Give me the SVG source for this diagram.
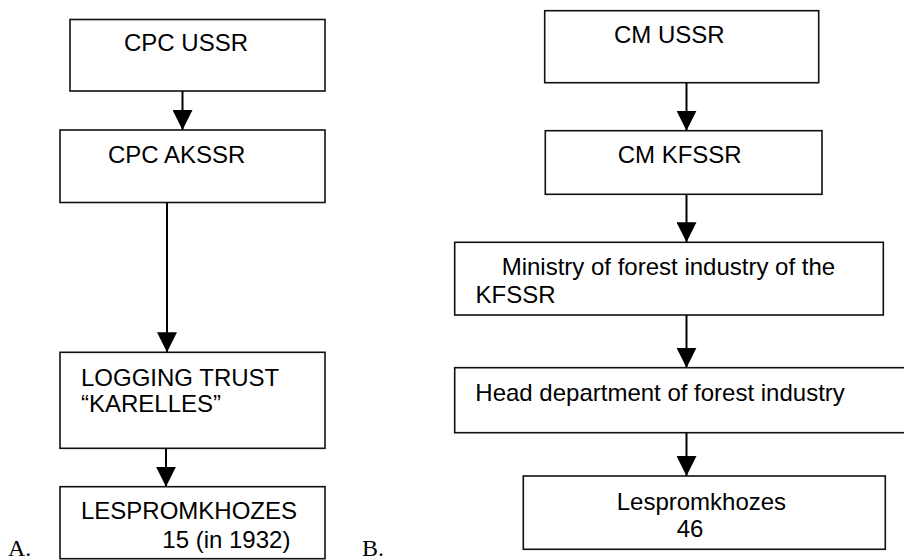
<svg xmlns="http://www.w3.org/2000/svg" width="904" height="560" viewBox="0 0 904 560">
  <style>
    .box { fill: #fff; stroke: #111; stroke-width: 1.6; }
    .lbl { font-family: "Liberation Sans", Arial, sans-serif; font-size: 24px; fill: #000; }
    .tag { font-family: "Liberation Serif", "Times New Roman", serif; font-size: 24px; fill: #000; }
    .edge { stroke: #000; stroke-width: 2; fill: none; marker-end: url(#arrow); }
  </style>
  <defs>
    <marker id="arrow" markerUnits="userSpaceOnUse" viewBox="0 0 20 20" markerWidth="20" markerHeight="20" refX="20" refY="10" orient="auto">
      <path d="M0,0 L20,10 L0,20 Z" fill="#000"/>
    </marker>
  </defs>
  <rect width="904" height="560" fill="#fff"/>

  <!-- Scheme A: party line of command -->
  <g id="cpc-ussr">
    <rect class="box" x="70" y="19.5" width="255" height="71.5"/>
    <text class="lbl" x="124" y="51">CPC USSR</text>
  </g>
  <g id="cpc-akssr">
    <rect class="box" x="60" y="130" width="265" height="72.5"/>
    <text class="lbl" x="108" y="162.5">CPC AKSSR</text>
  </g>
  <g id="logging-trust">
    <rect class="box" x="60" y="352.3" width="265" height="96"/>
    <text class="lbl" x="81" y="386">LOGGING TRUST</text>
    <text class="lbl" x="81" y="411.5">“KARELLES”</text>
  </g>
  <g id="lespromkhozes-a">
    <rect class="box" x="60" y="486.7" width="265" height="72"/>
    <text class="lbl" x="81" y="519.3">LESPROMKHOZES</text>
    <text class="lbl" x="162.3" y="547.5">15 (in 1932)</text>
  </g>

  <!-- Scheme B: ministerial line of command -->
  <g id="cm-ussr">
    <rect class="box" x="544.7" y="10.7" width="274" height="72"/>
    <text class="lbl" x="614" y="43.3">CM USSR</text>
  </g>
  <g id="cm-kfssr">
    <rect class="box" x="545.3" y="130.7" width="276.7" height="63.6"/>
    <text class="lbl" x="617.7" y="163.3">CM KFSSR</text>
  </g>
  <g id="ministry">
    <rect class="box" x="454.7" y="242.3" width="428.6" height="72.7"/>
    <text class="lbl" x="501.7" y="274.5">Ministry of forest industry of the</text>
    <text class="lbl" x="475.5" y="303">KFSSR</text>
  </g>
  <g id="head-department">
    <rect class="box" x="454.7" y="367.7" width="460" height="65"/>
    <text class="lbl" x="475.3" y="400.5">Head department of forest industry</text>
  </g>
  <g id="lespromkhozes-b">
    <rect class="box" x="523.3" y="476" width="362" height="73.3"/>
    <text class="lbl" x="616.7" y="510">Lespromkhozes</text>
    <text class="lbl" x="676.7" y="537.3">46</text>
  </g>

  <!-- Scheme labels -->
  <text class="tag" x="8" y="556">A.</text>
  <text class="tag" x="362" y="555.5">B.</text>

  <g id="connectors">
    <line class="edge" x1="182.5" y1="91" x2="182.5" y2="130"/>
    <line class="edge" x1="167" y1="202.5" x2="167" y2="352.3"/>
    <line class="edge" x1="166" y1="448.3" x2="166" y2="486.7"/>
    <line class="edge" x1="686.5" y1="82.7" x2="686.5" y2="130.7"/>
    <line class="edge" x1="686.5" y1="194.3" x2="686.5" y2="242.3"/>
    <line class="edge" x1="686.5" y1="315" x2="686.5" y2="367.7"/>
    <line class="edge" x1="686.5" y1="432.7" x2="686.5" y2="476"/>
  </g>
</svg>
